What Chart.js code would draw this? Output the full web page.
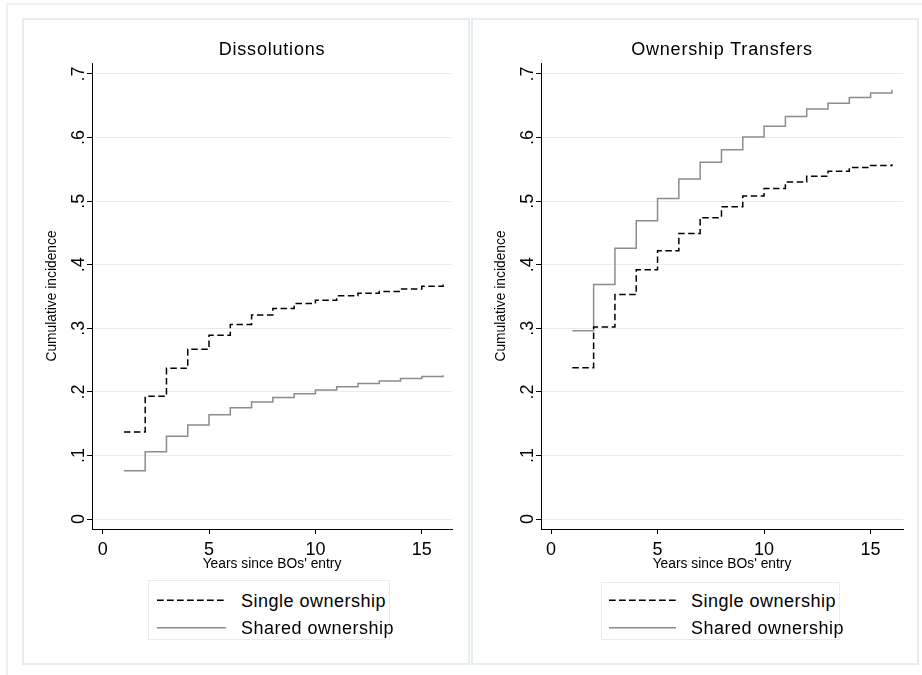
<!DOCTYPE html>
<html><head><meta charset="utf-8">
<script src="https://cdn.jsdelivr.net/npm/chart.js@4.4.1/dist/chart.umd.min.js"></script>
<style>
html,body{margin:0;padding:0;background:#fff;overflow:hidden;width:922px;height:675px;}
body{position:relative;font-family:"Liberation Sans",Arial,sans-serif;}
.frame{position:absolute;left:6px;top:3px;width:1000px;height:1000px;border:2px solid #edf2f4;box-sizing:border-box;}
.panel{position:absolute;top:18px;width:448px;height:647px;border:2px solid #e6edf0;box-sizing:border-box;background:#fff;}
canvas{position:absolute;}
.legend{position:absolute;border:1px solid #e6edf0;box-sizing:border-box;background:#fff;}
.legend svg{position:absolute;left:0;top:0;overflow:visible;}
.legend span{position:absolute;font-size:18px;line-height:20px;letter-spacing:0.5px;color:#000;white-space:nowrap;}
</style></head><body>
<div class="frame"></div>
<div class="panel" style="left:22px"></div>
<div class="panel" style="left:471px"></div>
<canvas id="c1" width="446" height="645" style="left:23px;top:19px"></canvas>
<canvas id="c2" width="446" height="645" style="left:472px;top:19px"></canvas>
<script>
// ---- data ----
const years = [1, 2, 3, 4, 5, 6, 7, 8, 9, 10, 11, 12, 13, 14, 15, 16];
const dissolutionSingle = [0.137, 0.193, 0.237, 0.267, 0.289, 0.306, 0.321, 0.331, 0.339, 0.344, 0.351, 0.355, 0.358, 0.362, 0.366, 0.370];
const dissolutionShared = [0.076, 0.106, 0.130, 0.148, 0.164, 0.175, 0.184, 0.191, 0.197, 0.203, 0.208, 0.213, 0.217, 0.221, 0.224, 0.226];
const transferSingle = [0.238, 0.302, 0.353, 0.392, 0.422, 0.449, 0.474, 0.491, 0.508, 0.520, 0.530, 0.539, 0.547, 0.553, 0.556, 0.558];
const transferShared = [0.296, 0.369, 0.426, 0.469, 0.504, 0.535, 0.561, 0.581, 0.601, 0.618, 0.633, 0.645, 0.654, 0.663, 0.670, 0.675];
const xTickValues = [0, 5, 10, 15];
const xTickLabels = ['0', '5', '10', '15'];
const yTickValues = [0, 0.1, 0.2, 0.3, 0.4, 0.5, 0.6, 0.7];
const yTickLabels = ['0', '.1', '.2', '.3', '.4', '.5', '.6', '.7'];
const panelTitles = ['Dissolutions', 'Ownership Transfers'];
const seriesNames = ['Single ownership', 'Shared ownership'];
const xAxisTitle = "Years since BOs' entry";
const yAxisTitle = 'Cumulative incidence';

// ---- styling / layout ----
const FONT = '"Liberation Sans", Arial, sans-serif';
const SINGLE_COLOR = '#000000';
const SHARED_COLOR = '#8c8c8c';
const DASH = [6.5, 3.5];
const GRID = '#e4edf0';
const Y_MIN = -0.0157, Y_MAX = 0.7173;

const titleSpacing = {
  id: 'titleSpacing',
  afterInit(chart) {
    const t = chart.titleBlock;
    if (!t) return;
    const d = t.draw;
    t.draw = function () {
      const c = this.ctx;
      const prev = c.letterSpacing;
      c.letterSpacing = '0.8px';
      d.apply(this, arguments);
      c.letterSpacing = prev === undefined ? '0px' : prev;
    };
  }
};

function makePanel(id, title, single, shared, xMin, xMax, padRight) {
  return new Chart(document.getElementById(id), {
    type: 'line',
    data: {
      datasets: [
        { label: seriesNames[0], data: years.map((x, i) => ({ x: x, y: single[i] })),
          borderColor: SINGLE_COLOR, borderWidth: 1.5, borderDash: DASH, stepped: true,
          pointRadius: 0, fill: false },
        { label: seriesNames[1], data: years.map((x, i) => ({ x: x, y: shared[i] })),
          borderColor: SHARED_COLOR, borderWidth: 1.5, stepped: true,
          pointRadius: 0, fill: false }
      ]
    },
    options: {
      responsive: false, animation: false, events: [],
      layout: { padding: { left: 0, top: 0, right: padRight, bottom: 0 } },
      plugins: {
        legend: { display: false },
        tooltip: { enabled: false },
        title: { display: true, text: title, fullSize: false, color: '#000',
          font: { family: FONT, size: 18, weight: 'normal' },
          padding: { top: 20.7, bottom: 1.7 } }
      },
      scales: {
        x: {
          type: 'linear', min: xMin, max: xMax,
          afterBuildTicks: s => { s.ticks = xTickValues.map(v => ({ value: v })); },
          afterFit: s => { s.height = 135; },
          ticks: { callback: (v, i) => xTickLabels[i], autoSkip: false, minRotation: 0, maxRotation: 0,
            padding: 5.7, color: '#000', font: { family: FONT, size: 18 } },
          grid: { drawOnChartArea: false, drawTicks: true, tickLength: 5, tickColor: '#000', tickWidth: 1 },
          border: { display: true, color: '#000', width: 1 },
          title: { display: true, text: xAxisTitle, color: '#000',
            font: { family: FONT, size: 13.8 }, padding: { top: 0, bottom: 91.7 } }
        },
        y: {
          type: 'linear', min: Y_MIN, max: Y_MAX,
          afterBuildTicks: s => { s.ticks = yTickValues.map(v => ({ value: v })); },
          afterFit: s => { s.width = 69; },
          ticks: { callback: (v, i) => yTickLabels[i], autoSkip: false, minRotation: 90, maxRotation: 90,
            crossAlign: 'center', padding: 0.5, color: '#000', font: { family: FONT, size: 18 } },
          grid: { color: GRID, lineWidth: 1, drawTicks: true, tickLength: 5, tickColor: '#000', tickWidth: 1 },
          border: { display: true, color: '#000', width: 1 },
          title: { display: true, text: yAxisTitle, color: '#000',
            font: { family: FONT, size: 13.8 }, padding: { top: 20.7, bottom: 0 } }
        }
      }
    },
    plugins: [titleSpacing]
  });
}

makePanel('c1', panelTitles[0], dissolutionSingle, dissolutionShared, -0.5, 16.42, 17);
makePanel('c2', panelTitles[1], transferSingle, transferShared, -0.47, 16.52, 15);

// ---- HTML legends ----
function makeLegend(left, top, width, height, sampleX0, sampleX1, textX) {
  const box = document.createElement('div');
  box.className = 'legend';
  box.style.left = left + 'px'; box.style.top = top + 'px';
  box.style.width = width + 'px'; box.style.height = height + 'px';
  const ns = 'http://www.w3.org/2000/svg';
  const svg = document.createElementNS(ns, 'svg');
  svg.setAttribute('width', width); svg.setAttribute('height', height);
  const rowY = [599.3 - top, 626.7 - top];
  const styles = [{ c: SINGLE_COLOR, d: '6.7 3.3' }, { c: SHARED_COLOR, d: null }];
  seriesNames.forEach((name, i) => {
    const ln = document.createElementNS(ns, 'line');
    ln.setAttribute('x1', sampleX0 - left); ln.setAttribute('x2', sampleX1 - left);
    ln.setAttribute('y1', rowY[i]); ln.setAttribute('y2', rowY[i]);
    ln.setAttribute('stroke', styles[i].c); ln.setAttribute('stroke-width', '1.5');
    if (styles[i].d) ln.setAttribute('stroke-dasharray', styles[i].d);
    svg.appendChild(ln);
    const sp = document.createElement('span');
    sp.textContent = name;
    sp.style.left = (textX - left) + 'px';
    sp.style.top = (rowY[i] + 0.5 - 9.85 - top + top) + 'px';
    box.appendChild(sp);
  });
  box.insertBefore(svg, box.firstChild);
  document.body.appendChild(box);
}
makeLegend(148, 580, 242, 60, 156, 225, 240);
makeLegend(601, 582, 239, 58, 608, 675, 690);
</script>
</body></html>
